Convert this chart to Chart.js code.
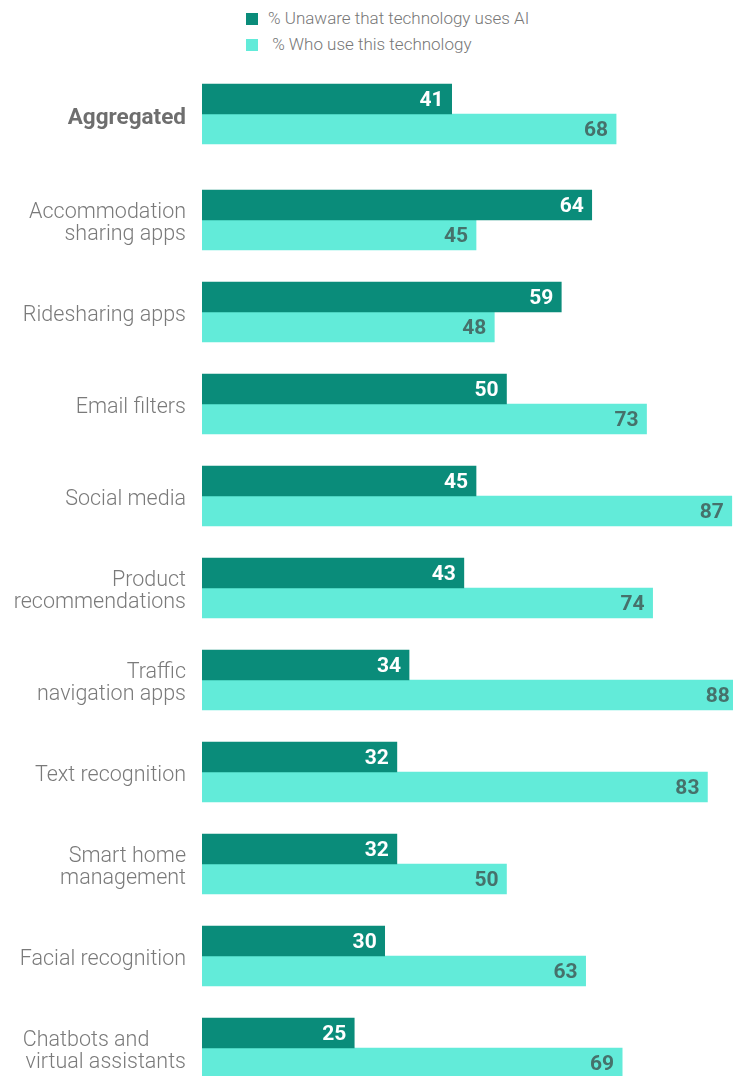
<!DOCTYPE html>
<html>
<head>
<meta charset="utf-8">
<script src="https://cdn.jsdelivr.net/npm/chart.js@4.4.1/dist/chart.umd.min.js"></script>
<style>
  html, body { margin: 0; padding: 0; background: #fff; overflow: hidden; }
  #wrap { position: relative; width: 733px; height: 1076px; overflow: hidden; }
  canvas { position: absolute; left: 0; }
  .leg { position: absolute; left: 246px; font: 300 17px Roboto, sans-serif; color: #777; white-space: pre; }
  .leg span { display: inline-block; width: 12px; height: 12px; margin-right: 10px; vertical-align: -1px; }
</style>
</head>
<body>
<div id="wrap">
  <div id="legend"></div>
  <canvas id="chartAgg" width="733" height="92" style="top:68px"></canvas>
  <canvas id="chartTech" width="733" height="920" style="top:174px"></canvas>
</div>
<script>
// --- DADOS ---
const seriesNames = ['% Unaware that technology uses AI', ' % Who use this technology'];
const seriesColors = ['#0a8c7a', '#62ebd9'];
const labelColors = ['#ffffff', '#46716b'];

const aggLabel = ['Aggregated'];
const aggUnaware = [41];
const aggUse = [68];

const categories = [
  ['Accommodation', 'sharing apps'],
  'Ridesharing apps',
  'Email filters',
  'Social media',
  ['Product', 'recommendations'],
  ['Traffic', 'navigation apps'],
  'Text recognition',
  ['Smart home', 'management'],
  'Facial recognition',
  ['Chatbots and       ', 'virtual assistants']
];
const unaware = [64, 59, 50, 45, 43, 34, 32, 32, 30, 25];
const useTech = [45, 48, 73, 87, 74, 88, 83, 50, 63, 69];

// --- LEGENDA ---
const legend = document.getElementById('legend');
seriesNames.forEach((name, i) => {
  const item = document.createElement('div');
  item.className = 'leg';
  item.style.top = (8 + i * 26) + 'px';
  item.innerHTML = '<span style="background:' + seriesColors[i] + '"></span>';
  item.appendChild(document.createTextNode(name));
  legend.appendChild(item);
});

// rótulos de valor dentro das barras
const valueLabels = {
  id: 'valueLabels',
  afterDatasetsDraw(chart) {
    const ctx = chart.ctx;
    ctx.save();
    ctx.font = 'bold 21px Roboto, sans-serif';
    ctx.textAlign = 'right';
    ctx.textBaseline = 'middle';
    chart.data.datasets.forEach((ds, i) => {
      chart.getDatasetMeta(i).data.forEach((bar, j) => {
        ctx.fillStyle = labelColors[i];
        ctx.fillText(ds.data[j], bar.x - 8, bar.y + 2);
      });
    });
    ctx.restore();
  }
};

function createChart(canvasId, labels, dataA, dataB, bold) {
  return new Chart(document.getElementById(canvasId), {
    type: 'bar',
    data: {
      labels: labels,
      datasets: [
        { label: seriesNames[0], data: dataA, backgroundColor: seriesColors[0], barThickness: 30, borderWidth: 0 },
        { label: seriesNames[1], data: dataB, backgroundColor: seriesColors[1], barThickness: 30, borderWidth: 0 }
      ]
    },
    options: {
      indexAxis: 'y',
      responsive: false,
      animation: false,
      layout: { padding: 0 },
      plugins: { legend: { display: false }, tooltip: { enabled: false } },
      scales: {
        x: { display: false, min: 0, max: 87.2 },
        y: {
          grid: { display: false, drawTicks: false },
          border: { display: false },
          ticks: {
            color: bold ? '#6e6e6e' : '#7a7a7a',
            padding: 16,
            labelOffset: 4,
            font: { family: 'Roboto', size: bold ? 22.5 : 21.5, weight: bold ? 'bold' : '300', lineHeight: 1.03 }
          },
          afterFit: (scale) => {
            scale.width = 202;
            scale.paddingTop = 0;
            scale.paddingBottom = 0;
          }
        }
      }
    },
    plugins: [valueLabels]
  });
}

createChart('chartAgg', aggLabel, aggUnaware, aggUse, true);
createChart('chartTech', categories, unaware, useTech, false);
</script>
</body>
</html>
